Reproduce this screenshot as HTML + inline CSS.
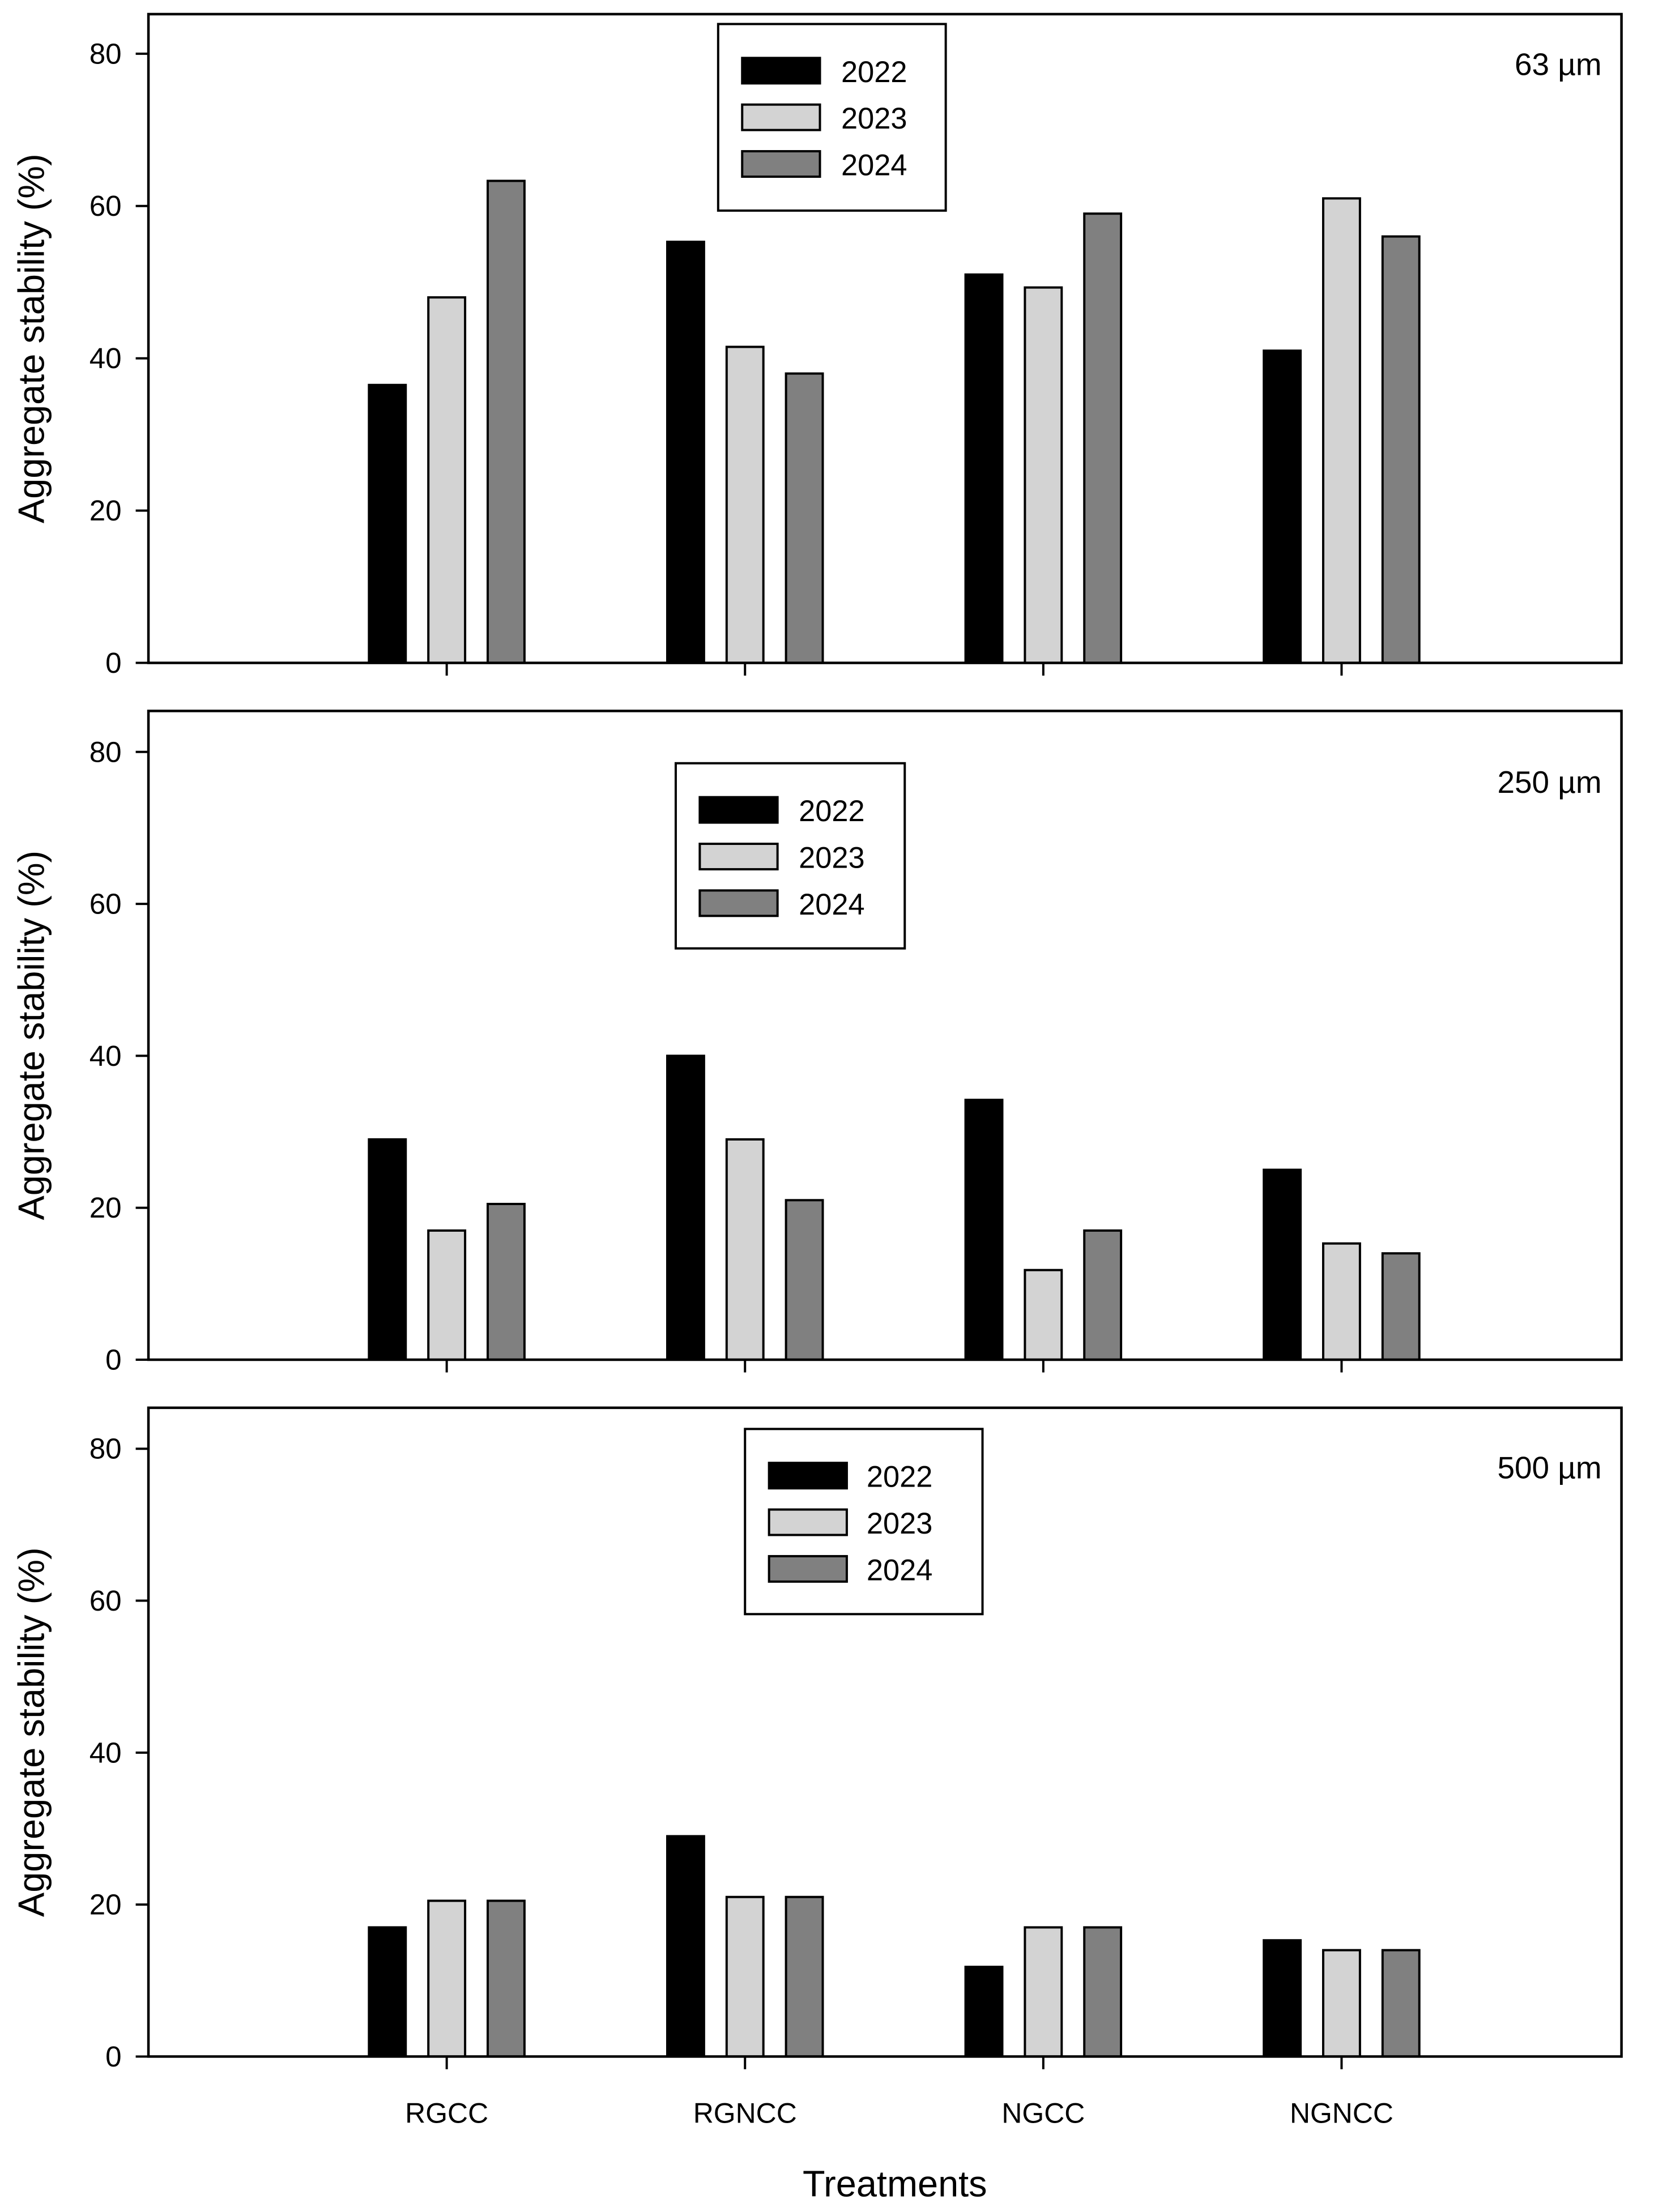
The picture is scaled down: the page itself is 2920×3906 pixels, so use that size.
<!DOCTYPE html>
<html><head><meta charset="utf-8"><style>
html,body{margin:0;padding:0;background:#fff;}
svg{display:block;font-family:"Liberation Sans",Arial,sans-serif;}
</style></head><body>
<svg id="chart" width="2920" height="3906" viewBox="0 0 1170 1565" preserveAspectRatio="none" xmlns="http://www.w3.org/2000/svg"></svg>
<script>
const categories = ["RGCC","RGNCC","NGCC","NGNCC"];
const years = ["2022","2023","2024"];
const panelLabels = ["63 µm","250 µm","500 µm"];
const yTicks = [0,20,40,60,80];
const v63_2022 = [36.5,55.3,51,41];
const v63_2023 = [48,41.5,49.3,61];
const v63_2024 = [63.3,38,59,56];
const v250_2022 = [29,40,34.2,25];
const v250_2023 = [17,29,11.8,15.3];
const v250_2024 = [20.5,21,17,14];
const v500_2022 = [17,29,11.8,15.3];
const v500_2023 = [20.5,21,17,14];
const v500_2024 = [20.5,21,17,14];

const NS="http://www.w3.org/2000/svg";
const svg=document.getElementById('chart');
function mk(tag,attrs,parent){const e=document.createElementNS(NS,tag);for(const k in attrs)e.setAttribute(k,attrs[k]);(parent||svg).appendChild(e);return e;}
const fills=["#000000","#d3d3d3","#808080"];
const panels=[
 {top:10,bottom:469,y80:38,series:[v63_2022,v63_2023,v63_2024],leg:{x:508,y:17,w:161,h:132,sx:525,tx:595,r0:50},lab:{y:45}},
 {top:503,bottom:962,y80:532,series:[v250_2022,v250_2023,v250_2024],leg:{x:478,y:540,w:162,h:131,sx:495,tx:565,r0:573},lab:{y:553}},
 {top:996,bottom:1455,y80:1025,series:[v500_2022,v500_2023,v500_2024],leg:{x:527,y:1011,w:168,h:131,sx:544,tx:613,r0:1044},lab:{y:1038}}
];
const left=105,right=1147;
const catX0=316,catStep=211;
function xScale(i){return catX0+i*catStep;}
panels.forEach((p,pi)=>{
  const g=mk('g',{});
  
  
  const yScale=v=>p.bottom-(v/80)*(p.bottom-p.y80);
  categories.forEach((c,ci)=>{
    p.series.forEach((s,si)=>{
      const x=xScale(ci)+(si-1)*42-13;
      const y=yScale(s[ci]);
      const r=mk('rect',{x:x,y:y,width:26,height:p.bottom-y,fill:fills[si],stroke:"#000","stroke-width":1.6},g);
      
      
    });
    const t=mk('line',{x1:xScale(ci),x2:xScale(ci),y1:p.bottom,y2:p.bottom+9,stroke:"#000","stroke-width":1.6},g);
    
    
  });
  const frame=mk('rect',{x:left,y:p.top,width:right-left,height:p.bottom-p.top,fill:"none",stroke:"#000","stroke-width":1.8},g);
  
  
  yTicks.forEach(v=>{
    const y=yScale(v);
    const l=mk('line',{x1:left-9,x2:left,y1:y,y2:y,stroke:"#000","stroke-width":1.6},g);
    
    
    const tx=mk('text',{x:left-19,y:y+7,"font-size":20.5,"text-anchor":"end"},g);
    tx.textContent=v;
    
    
  });
  const mid=(p.top+p.bottom)/2;
  const yt=mk('text',{x:0,y:0,"font-size":26,"text-anchor":"middle",transform:`translate(31,${mid}) rotate(-90)`},g);
  yt.textContent="Aggregate stability (%)";
  
  
  const lb=mk('text',{x:1133,y:p.lab.y+8,"font-size":22,"text-anchor":"end"},g);
  lb.textContent=panelLabels[pi];
  
  
  const L=p.leg;
  const lg=mk('g',{},g);
  
  
  mk('rect',{x:L.x,y:L.y,width:L.w,height:L.h,fill:"#fff",stroke:"#000","stroke-width":1.6},lg);
  years.forEach((yr,si)=>{
    const cy=L.r0+si*33;
    const sw=mk('rect',{x:L.sx,y:cy-9,width:55,height:18,fill:fills[si],stroke:"#000","stroke-width":1.6},lg);
    
    
    const t=mk('text',{x:L.tx,y:cy+8,"font-size":21},lg);
    t.textContent=yr;
    
    
  });
});
categories.forEach((c,ci)=>{
  const t=mk('text',{x:xScale(ci),y:1502,"font-size":20,"text-anchor":"middle"});
  t.textContent=c;
  
  
});
const xt=mk('text',{x:633,y:1554,"font-size":26,"text-anchor":"middle"});
xt.textContent="Treatments";


</script>
</body></html>
